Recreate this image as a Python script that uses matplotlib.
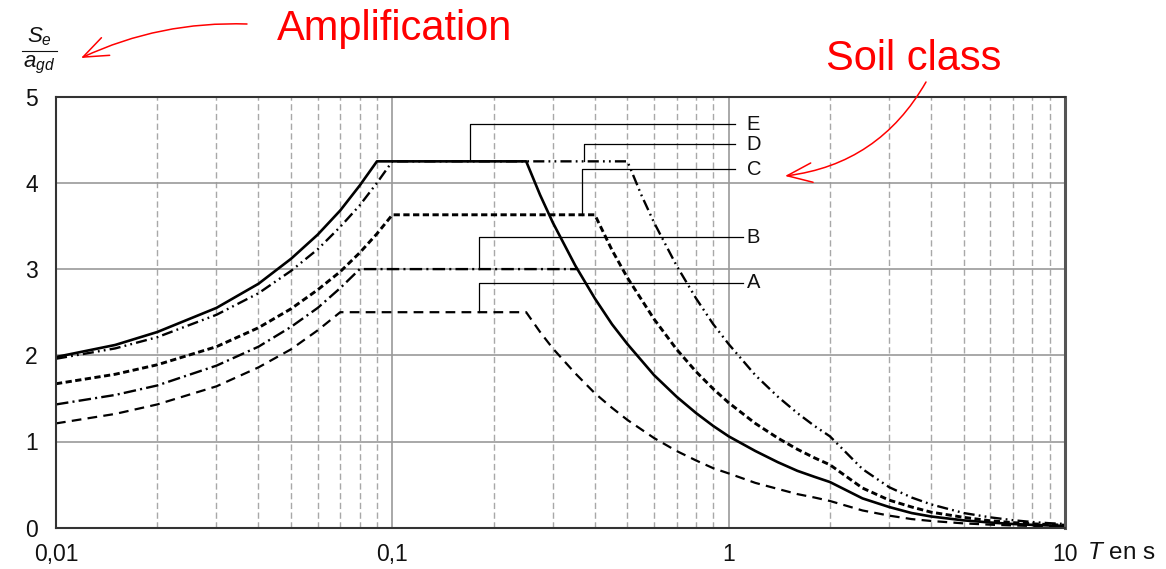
import matplotlib
matplotlib.use("Agg")
import matplotlib.pyplot as plt
from matplotlib.ticker import FixedLocator, LogLocator, NullFormatter
from matplotlib.lines import Line2D

plt.rcParams['font.family'] = ['Liberation Sans', 'DejaVu Sans']
plt.rcParams['mathtext.fontset'] = 'custom'
plt.rcParams['mathtext.rm'] = 'Liberation Sans'
plt.rcParams['mathtext.it'] = 'Liberation Sans:italic'
plt.rcParams['lines.scale_dashes'] = False

# soil class spectra Se/agd
T_E = [0.01, 0.015, 0.02, 0.03, 0.04, 0.05, 0.06, 0.07, 0.08, 0.09, 0.25, 0.275, 0.3, 0.35, 0.4,
       0.45, 0.5, 0.6, 0.7, 0.8, 0.9, 1.0, 1.2, 1.4, 1.6, 1.8, 2.0, 2.5, 3.0, 3.5, 4.0, 5.0, 6.0,
       7.0, 8.0, 9.0, 10.0]
S_E = [1.98, 2.12, 2.27, 2.55, 2.83, 3.12, 3.40, 3.68, 3.97, 4.25, 4.25, 3.86, 3.54, 3.04, 2.66,
       2.36, 2.13, 1.77, 1.52, 1.33, 1.18, 1.06, 0.89, 0.76, 0.66, 0.59, 0.53, 0.34, 0.24, 0.17,
       0.13, 0.085, 0.06, 0.043, 0.033, 0.026, 0.021]

T_D = [0.01, 0.015, 0.02, 0.03, 0.04, 0.05, 0.06, 0.07, 0.08, 0.09, 0.1, 0.5, 0.55, 0.6, 0.7,
       0.8, 0.9, 1.0, 1.2, 1.4, 1.6, 1.8, 2.0, 2.5, 3.0, 3.5, 4.0, 5.0, 6.0, 7.0, 8.0, 9.0, 10.0]
S_D = [1.96, 2.08, 2.21, 2.47, 2.72, 2.98, 3.23, 3.49, 3.74, 4.00, 4.25, 4.25, 3.86, 3.54, 3.04,
       2.66, 2.36, 2.13, 1.77, 1.52, 1.33, 1.18, 1.06, 0.68, 0.47, 0.35, 0.27, 0.17, 0.12, 0.087,
       0.066, 0.052, 0.043]

T_C = [0.01, 0.015, 0.02, 0.03, 0.04, 0.05, 0.06, 0.07, 0.08, 0.09, 0.1, 0.4, 0.45, 0.5, 0.6,
       0.7, 0.8, 0.9, 1.0, 1.2, 1.4, 1.6, 1.8, 2.0, 2.5, 3.0, 3.5, 4.0, 5.0, 6.0, 7.0, 8.0, 9.0, 10.0]
S_C = [1.67, 1.78, 1.89, 2.10, 2.32, 2.54, 2.76, 2.97, 3.19, 3.41, 3.63, 3.63, 3.22, 2.90, 2.42,
       2.07, 1.81, 1.61, 1.45, 1.21, 1.04, 0.91, 0.81, 0.73, 0.46, 0.32, 0.24, 0.18, 0.12, 0.08,
       0.059, 0.045, 0.036, 0.029]

T_B = [0.01, 0.015, 0.02, 0.03, 0.04, 0.05, 0.06, 0.07, 0.08, 0.354]
S_B = [1.43, 1.54, 1.65, 1.88, 2.10, 2.33, 2.55, 2.78, 3.00, 3.00]

T_A = [0.01, 0.015, 0.02, 0.03, 0.04, 0.05, 0.06, 0.07, 0.25, 0.275, 0.3, 0.35, 0.4, 0.45, 0.5,
       0.6, 0.7, 0.8, 0.9, 1.0, 1.2, 1.4, 1.6, 1.8, 2.0, 2.5, 3.0, 3.5, 4.0, 5.0, 6.0, 7.0, 8.0,
       9.0, 10.0]
S_A = [1.21, 1.32, 1.43, 1.64, 1.86, 2.07, 2.29, 2.50, 2.50, 2.27, 2.08, 1.79, 1.56, 1.39, 1.25,
       1.04, 0.89, 0.78, 0.69, 0.63, 0.52, 0.45, 0.39, 0.35, 0.31, 0.20, 0.14, 0.10, 0.078, 0.05,
       0.035, 0.026, 0.02, 0.015, 0.0125]

# leader lines for the class labels
labels = ["E", "D", "C", "B", "A"]
lead_T = [0.170, 0.371, 0.366, 0.181, 0.181]
lead_y0 = [4.25, 4.25, 3.63, 3.00, 2.50]
lead_y1 = [4.68, 4.45, 4.16, 3.37, 2.84]
lead_Tend = [1.045, 1.045, 1.045, 1.10, 1.10]

xticks = [0.01, 0.1, 1, 10]
xticklabels = ["0,01", "0,1", "1", "10"]
yticks = [0, 1, 2, 3, 4, 5]

W, H = 1166, 569
fig = plt.figure(figsize=(W / 100, H / 100), dpi=100)
ax = fig.add_axes([56 / W, 1 - 527.7 / H, (1065 - 56) / W, (527.7 - 96.7) / H])

ax.set_xscale("log")
ax.set_xlim(0.01, 10)
ax.set_ylim(0, 5)

ax.xaxis.set_major_locator(FixedLocator(xticks))
ax.set_xticklabels(xticklabels)
ax.xaxis.set_minor_locator(LogLocator(base=10, subs=range(2, 10)))
ax.xaxis.set_minor_formatter(NullFormatter())
ax.set_yticks(yticks)
ax.set_yticklabels([str(v) for v in yticks])

ax.grid(True, which="major", color="#9a9a9a", lw=1.2, ls="-")
ax.xaxis.grid(True, which="minor", color="#a8a8a8", lw=1.0, ls=(0, (4.5, 2.5)))
ax.set_axisbelow(True)
ax.tick_params(which="both", length=0)
ax.tick_params(axis="x", labelsize=16.5, pad=11, colors="#111111")
ax.tick_params(axis="y", labelsize=16.5, pad=13, colors="#111111")

for s in ["left", "bottom", "top"]:
    ax.spines[s].set_color("#333333")
    ax.spines[s].set_linewidth(1.5)
ax.spines["right"].set_color("#555555")
ax.spines["right"].set_linewidth(2.2)

ax.plot(T_A, S_A, color="black", lw=1.6, ls=(0, (7, 4.5)))
ax.plot(T_B, S_B, color="black", lw=1.7, ls=(0, (9, 3, 1.5, 3)))
ax.plot(T_C, S_C, color="black", lw=2.1, ls=(0, (4.5, 2.5)))
ax.plot(T_D, S_D, color="black", lw=1.7, ls=(0, (8, 3, 1.3, 3, 1.3, 3)))
ax.plot(T_E, S_E, color="black", lw=1.9, ls="-")

for lab, t0, y0, y1, t1 in zip(labels, lead_T, lead_y0, lead_y1, lead_Tend):
    ax.plot([t0, t0, t1], [y0, y1, y1], color="black", lw=0.9)
    ax.text(1.13, y1, lab, fontsize=14.5, ha="left", va="center", color="#111111")

# axis titles
fig.text(1087 / W, 1 - 553 / H, r"$T$ en s", fontsize=17.5, ha="left", va="center", color="#111111")
fig.text(39 / W, 1 - 37 / H, r"$S_e$", fontsize=16, ha="center", va="center", color="#111111")
fig.text(39 / W, 1 - 65 / H, r"$a_{gd}$", fontsize=16, ha="center", va="center", color="#111111")
fig.add_artist(Line2D([22 / W, 57 / W], [1 - 51 / H, 1 - 51 / H], color="#111111", lw=0.8))

# red annotations
fig.text(277 / W, 1 - 40 / H, "Amplification", fontsize=30, color="red", ha="left", va="baseline")
fig.text(826 / W, 1 - 70 / H, "Soil class", fontsize=30, color="red", ha="left", va="baseline")
arrow = dict(arrowstyle="->,head_length=0.9,head_width=0.35", color="red", lw=1.1,
             shrinkA=0, shrinkB=0, mutation_scale=20)
ax.annotate("", xy=(81, H - 58), xycoords="figure pixels",
            xytext=(247, H - 24), textcoords="figure pixels",
            arrowprops=dict(arrow, connectionstyle="arc3,rad=0.12"))
ax.annotate("", xy=(785, H - 176), xycoords="figure pixels",
            xytext=(926, H - 82), textcoords="figure pixels",
            arrowprops=dict(arrow, connectionstyle="arc3,rad=-0.25"))

fig.savefig("out.png", dpi=100)
